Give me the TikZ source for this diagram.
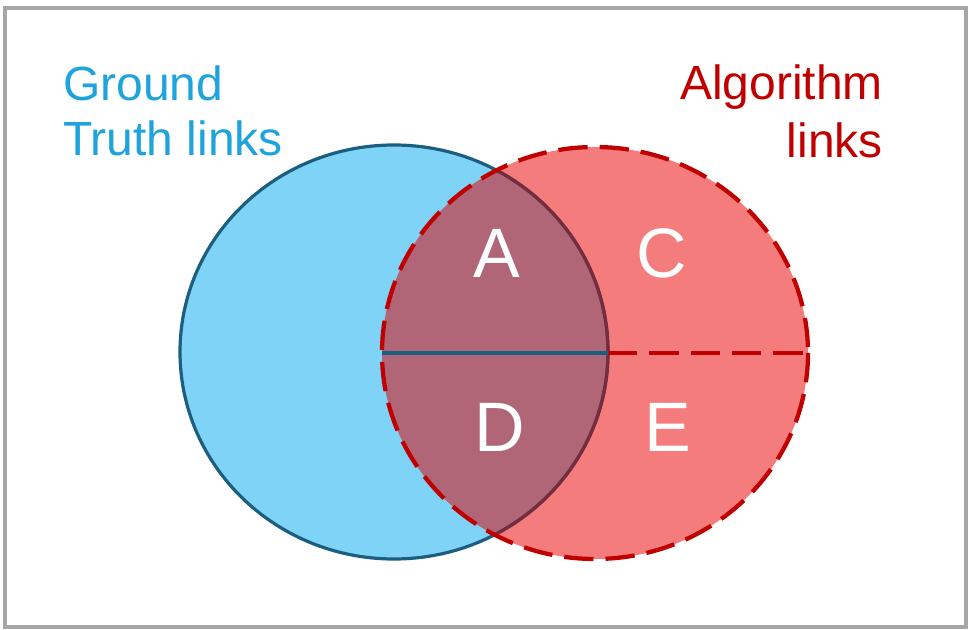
\documentclass[tikz,border=0pt]{standalone}
\usepackage{fontspec}
\setmainfont{Liberation Sans}
\definecolor{gtblue}{HTML}{1FA3DC}
\definecolor{gtfill}{HTML}{7FD3F6}
\definecolor{gtline}{HTML}{1B5E80}
\definecolor{algred}{HTML}{C00000}
\definecolor{algfill}{HTML}{F47C7C}
\definecolor{bothfill}{HTML}{B06676}
\definecolor{bothline}{HTML}{7A2A3A}
\definecolor{framegray}{HTML}{A6A6A6}
\tikzset{
  setlabel/.style={font=\fontsize{36}{43}\selectfont, inner sep=0pt},
  cell/.style={font=\fontsize{52.5}{60}\selectfont, text=white, inner sep=0pt},
  algdash/.style={algred, line width=3.2pt, dash pattern=on 22pt off 9pt}
}
\begin{document}
\begin{tikzpicture}[x=0.75pt,y=-0.75pt]
\useasboundingbox (0,0) rectangle (969,630);
\draw[framegray, line width=2.5pt] (5,8) rectangle (966,627);
\coordinate (gt) at (394,352);
\coordinate (alg) at (595,353);
\coordinate (left) at (382,353);
\coordinate (mid) at (608,353);
\coordinate (right) at (808,353);
% filled sets
\fill[gtfill] (gt) ellipse [x radius=214, y radius=207];
\fill[algfill] (alg) ellipse [x radius=213, y radius=206];
\begin{scope}
\clip (gt) ellipse [x radius=214, y radius=207];
\fill[bothfill] (alg) ellipse [x radius=213, y radius=206];
\end{scope}
% outlines
\draw[gtline, line width=2.4pt] (gt) ellipse [x radius=214, y radius=207];
\begin{scope}
\clip (alg) ellipse [x radius=213, y radius=206];
\draw[bothline, line width=2.4pt] (gt) ellipse [x radius=214, y radius=207];
\end{scope}
\draw[gtline, line width=2.6pt] (left) -- (mid);
\draw[algdash] (mid) -- (right);
\draw[algdash] (alg) ellipse [x radius=213, y radius=206];
% labels
\node[setlabel, text=gtblue, anchor=base west] (gt1) at (63,101) {Ground};
\node[setlabel, text=gtblue, anchor=base west] (gt2) at (63,156) {Truth links};
\node[setlabel, text=algred, anchor=base east] (alg1) at (883,100) {Algorithm};
\node[setlabel, text=algred, anchor=base east] (alg2) at (883,158) {links};
\node[cell] (a) at (497,253) {A};
\node[cell] (c) at (662,253) {C};
\node[cell] (d) at (500,427) {D};
\node[cell] (e) at (668,427) {E};
\end{tikzpicture}
\end{document}
